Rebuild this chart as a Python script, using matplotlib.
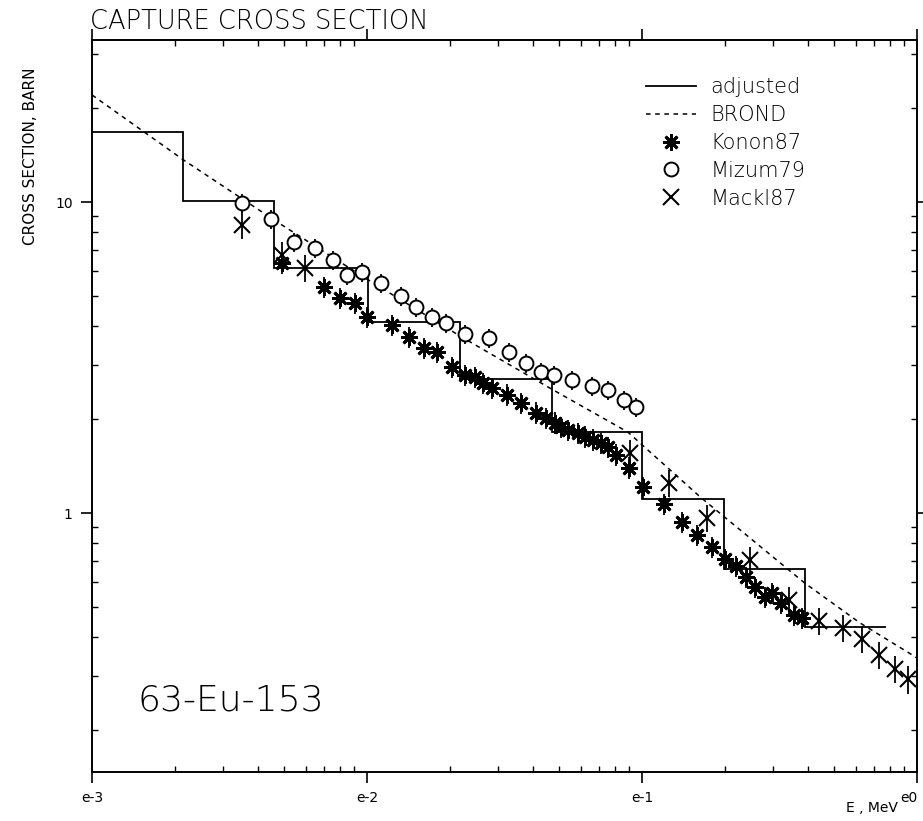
import matplotlib
matplotlib.use("Agg")
import matplotlib.pyplot as plt
from matplotlib.ticker import FixedLocator, LogLocator, NullFormatter

# ---------------------------------
# Data (E in MeV, cross section in barn)
# ---------------------------------
# adjusted group cross sections (step function)
adj_edges = [0.001, 0.00214, 0.0046, 0.0101, 0.0217, 0.0472, 0.1, 0.198, 0.393, 0.773]
adj_values = [16.8, 10.1, 6.13, 4.11, 2.70, 1.82, 1.11, 0.66, 0.43]

# BROND evaluation
brond_e = [0.001, 0.00214, 0.0046, 0.01, 0.0221, 0.0456, 0.0889, 0.164, 0.390, 0.621, 0.897, 1.0]
brond_xs = [22.1, 13.7, 8.75, 5.65, 3.68, 2.54, 1.82, 1.12, 0.596, 0.443, 0.363, 0.342]

# Konon87
konon_e = [0.00492, 0.00699, 0.00798, 0.00905, 0.0100, 0.0123, 0.0142, 0.0161, 0.0179,
           0.0203, 0.0227, 0.0248, 0.0265, 0.0284, 0.0322, 0.0364, 0.0410, 0.0449,
           0.0484, 0.0509, 0.0539, 0.0586, 0.0622, 0.0665, 0.0710, 0.0753, 0.0805,
           0.0897, 0.101, 0.120, 0.140, 0.158, 0.179, 0.200, 0.219, 0.238, 0.257,
           0.279, 0.298, 0.319, 0.358, 0.383]
konon_xs = [6.37, 5.33, 4.91, 4.73, 4.27, 4.02, 3.68, 3.39, 3.29,
            2.95, 2.78, 2.74, 2.62, 2.52, 2.40, 2.26, 2.10, 2.02,
            1.95, 1.89, 1.85, 1.81, 1.76, 1.72, 1.68, 1.63, 1.54,
            1.40, 1.21, 1.07, 0.936, 0.850, 0.777, 0.711, 0.675, 0.623, 0.578,
            0.537, 0.553, 0.514, 0.470, 0.460]
konon_relerr = 0.08

# Mizum79
mizum_e = [0.0035, 0.00449, 0.00544, 0.00648, 0.00753, 0.00846, 0.00959, 0.0112,
           0.0133, 0.0151, 0.0172, 0.0193, 0.0228, 0.0277, 0.0327, 0.0380, 0.0431,
           0.0480, 0.0558, 0.0659, 0.0753, 0.0861, 0.0951]
mizum_xs = [9.93, 8.82, 7.43, 7.11, 6.51, 5.82, 5.96, 5.49,
            4.99, 4.60, 4.27, 4.08, 3.76, 3.65, 3.29, 3.04, 2.84,
            2.78, 2.68, 2.56, 2.49, 2.31, 2.19]
mizum_relerr = 0.07

# Mackl87
mackl_e = [0.0035, 0.00492, 0.00596, 0.0905, 0.125, 0.173, 0.248, 0.341, 0.4415,
           0.540, 0.632, 0.728, 0.832, 0.928]
mackl_xs = [8.44, 6.76, 6.13, 1.56, 1.25, 0.964, 0.706, 0.525, 0.449,
            0.427, 0.393, 0.350, 0.315, 0.292]
mackl_relerr = 0.10

plt.rcParams['font.family'] = ['DejaVu Sans']

fig = plt.figure(figsize=(9.23, 8.21), dpi=100)
ax = fig.add_axes([0.0997, 0.0597, 0.8938, 0.8916])
ax.set_xscale('log')
ax.set_yscale('log')
ax.set_xlim(0.001, 1.0)
ax.set_ylim(0.147, 33.2)


def yerr(vals, rel):
    return [[v * rel for v in vals], [v * rel for v in vals]]


ax.stairs(adj_values, adj_edges, baseline=None, color='black', lw=1.3, label='adjusted')
ax.plot(brond_e, brond_xs, color='black', lw=1.1, ls=(0, (3, 3)), label='BROND')

ax.errorbar(konon_e, konon_xs, yerr=yerr(konon_xs, konon_relerr), fmt='none',
            ecolor='black', elinewidth=1.3)
ax.plot(konon_e, konon_xs, ls='none', marker=(8, 2, 0), ms=12, mew=2.0,
        color='black', label='Konon87')

ax.errorbar(mizum_e, mizum_xs, yerr=yerr(mizum_xs, mizum_relerr), fmt='none',
            ecolor='black', elinewidth=1.3)
ax.plot(mizum_e, mizum_xs, ls='none', marker='o', ms=10, mew=1.4, mfc='white',
        color='black', label='Mizum79')

ax.errorbar(mackl_e, mackl_xs, yerr=yerr(mackl_xs, mackl_relerr), fmt='none',
            ecolor='black', elinewidth=1.3)
ax.plot(mackl_e, mackl_xs, ls='none', marker='x', ms=11, mew=1.5,
        color='black', label='Mackl87')

# ticks
ax.xaxis.set_major_locator(FixedLocator([0.001, 0.01, 0.1, 1.0]))
ax.set_xticklabels(['e-3', 'e-2', 'e-1', 'e0'], fontsize=10)
ax.get_xticklabels()[-1].set_ha('right')
ax.xaxis.set_minor_locator(LogLocator(base=10, subs=range(2, 10)))
ax.xaxis.set_minor_formatter(NullFormatter())
ax.yaxis.set_major_locator(FixedLocator([1.0, 10.0]))
ax.set_yticklabels(['1', '10'], fontsize=10)
ax.yaxis.set_minor_locator(LogLocator(base=10, subs=range(2, 10)))
ax.yaxis.set_minor_formatter(NullFormatter())
ax.tick_params(which='major', direction='out', length=8, width=1.2,
               top=True, right=True, pad=6)
ax.tick_params(which='minor', direction='in', length=4, width=1,
               top=True, right=True)
for s in ax.spines.values():
    s.set_linewidth(1.4)

leg = ax.legend(loc='upper right', bbox_to_anchor=(0.887, 0.975), frameon=False,
                fontsize=15, handlelength=2.4, labelspacing=0.38, handletextpad=0.7)
for t in leg.get_texts():
    t.set_fontweight('light')

fig.text(0.0975, 0.974, 'CAPTURE CROSS SECTION', fontsize=18.5, ha='left', va='center',
         fontweight='light')
fig.text(0.033, 0.81, 'CROSS SECTION, BARN', fontsize=11, rotation=90,
         ha='center', va='center')
fig.text(0.945, 0.016, 'E , MeV', fontsize=10, ha='center', va='center')
ax.text(0.055, 0.075, '63-Eu-153', transform=ax.transAxes, fontsize=26,
        fontweight='light', ha='left', va='bottom')

fig.savefig('out.png', dpi=100)
